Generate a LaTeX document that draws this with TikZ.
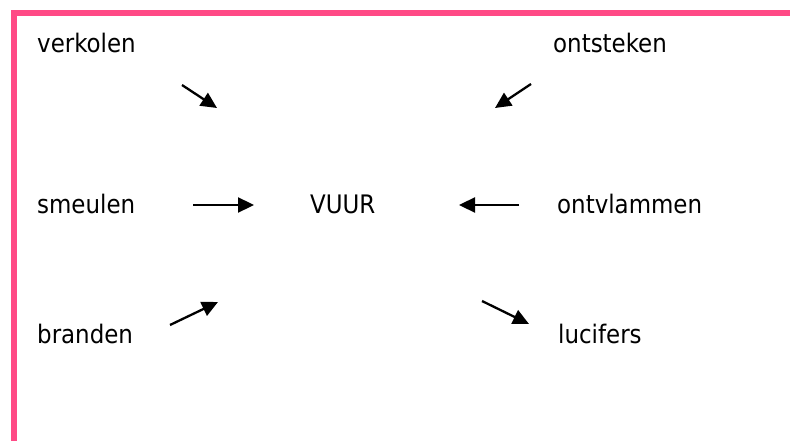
\documentclass[tikz,border=0pt]{standalone}
\usepackage{fontspec}
\setmainfont{DejaVu Sans Condensed}
\usetikzlibrary{arrows.meta}
\definecolor{rimpink}{RGB}{255,74,134}
\tikzset{
  word/.style={anchor=base west, inner sep=0pt, font=\fontsize{25.5pt}{30pt}\selectfont},
  pijl/.style={line width=2.3pt, -{Triangle[length=16pt,width=15pt]}},
}
\begin{document}
\begin{tikzpicture}[x=1pt,y=-1pt]
\useasboundingbox (0,0) rectangle (790,441);
\fill[white] (0,0) rectangle (790,441);
% border
\fill[rimpink] (11,10) rectangle (790,16);
\fill[rimpink] (11,10) rectangle (17,441);
% words
\node[word] (verkolen) at (37,53) {verkolen};
\node[word] (ontsteken) at (553,53) {ontsteken};
\node[word] (smeulen) at (37,213) {smeulen};
\node[word] (vuur) at (310,213) {VUUR};
\node[word] (ontvlammen) at (557,213) {ontvlammen};
\node[word] (branden) at (37,343) {branden};
\node[word] (lucifers) at (558,343) {lucifers};
% arrow end points
\coordinate (a1s) at (182,85);  \coordinate (a1e) at (217,108);
\coordinate (a2s) at (531,84);  \coordinate (a2e) at (495,108);
\coordinate (a3s) at (193,205); \coordinate (a3e) at (254,205);
\coordinate (a4s) at (519,205); \coordinate (a4e) at (459,205);
\coordinate (a5s) at (170,325); \coordinate (a5e) at (218,302);
\coordinate (a6s) at (482,301); \coordinate (a6e) at (529,324);
\draw[pijl] (a1s) -- (a1e);
\draw[pijl] (a2s) -- (a2e);
\draw[pijl] (a3s) -- (a3e);
\draw[pijl] (a4s) -- (a4e);
\draw[pijl] (a5s) -- (a5e);
\draw[pijl] (a6s) -- (a6e);
\end{tikzpicture}
\end{document}
